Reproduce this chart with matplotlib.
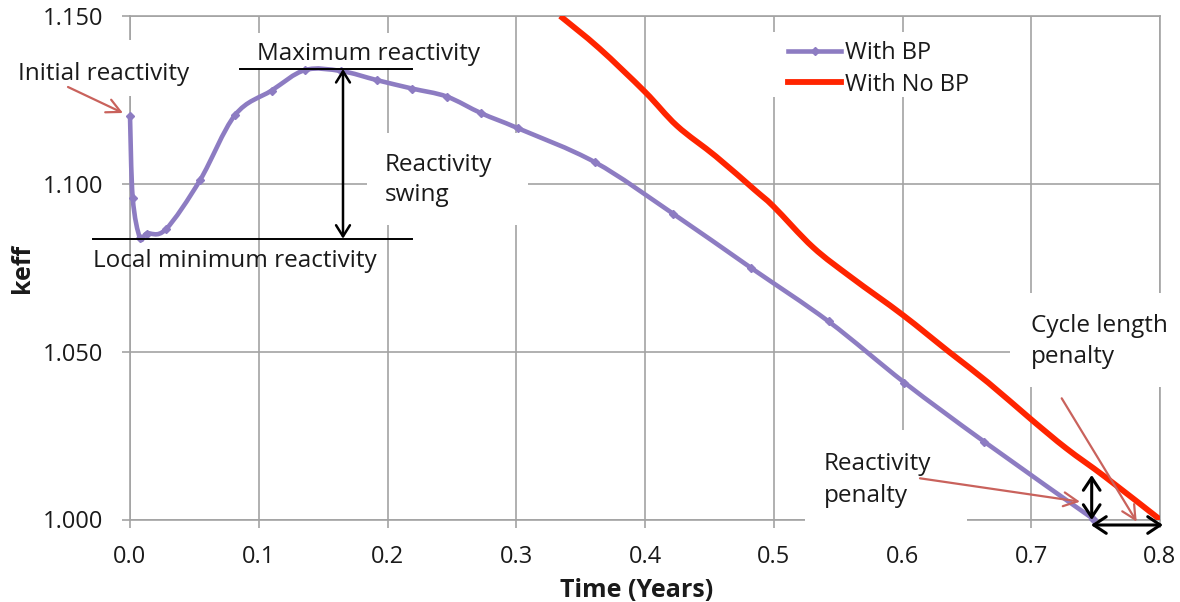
import matplotlib
matplotlib.use('Agg')
import matplotlib.pyplot as plt
from matplotlib.path import Path
from matplotlib.patches import PathPatch, Rectangle
from matplotlib.lines import Line2D

# ---------------- data ----------------
bp_time = [0.000, 0.0021, 0.0078, 0.013, 0.0277, 0.0544, 0.0816, 0.110, 0.136,
           0.164, 0.1917, 0.2189, 0.246, 0.273, 0.3017, 0.3613, 0.4218, 0.4822,
           0.5426, 0.6015, 0.6634, 0.748]
bp_keff = [1.1202, 1.0958, 1.0838, 1.0852, 1.0864, 1.1011, 1.1205, 1.1278, 1.1339,
           1.1336, 1.1309, 1.1284, 1.1260, 1.1210, 1.1165, 1.1064, 1.0911, 1.0750,
           1.0590, 1.0408, 1.0232, 1.0002]

nobp_time = [0.3341, 0.3644, 0.400, 0.4248, 0.455, 0.4852, 0.500, 0.5305, 0.5607,
             0.600, 0.6363, 0.6665, 0.700, 0.7272, 0.7574, 0.800]
nobp_keff = [1.1500, 1.1404, 1.1274, 1.1173, 1.1082, 1.0982, 1.0932, 1.0811, 1.0720,
             1.0610, 1.0499, 1.0408, 1.0298, 1.0212, 1.0127, 1.0000]

series_labels = ['With BP', 'With No BP']
x_ticks = [0.0, 0.1, 0.2, 0.3, 0.4, 0.5, 0.6, 0.7, 0.8]
x_tick_labels = ['0.0', '0.1', '0.2', '0.3', '0.4', '0.5', '0.6', '0.7', '0.8']
y_ticks = [1.000, 1.050, 1.100, 1.150]
y_tick_labels = ['1.000', '1.050', '1.100', '1.150']

# ---------------- style ----------------
plt.rcParams['font.family'] = ['Open Sans', 'DejaVu Sans']
W, H = 1180, 602
L, R, T, B = 130, 1160, 16, 519.5
GRID = '#a3a3a3'
PURPLE = '#8d7cc2'
RED = '#ff2400'
ARROW_RED = '#c9625c'
TXT = '#1a1a1a'
FS = 17.5
TICK_FS = 17

fig = plt.figure(figsize=(W / 100, H / 100), dpi=100)
ax = fig.add_axes([L / W, 1 - B / H, (R - L) / W, (B - T) / H])
ax.set_xlim(0, 0.8)
ax.set_ylim(1.0, 1.15)


def px(x, y):
    """figure pixel position (from top-left) -> data coords"""
    return ((x - L) / (R - L) * 0.8, 1.15 - (y - T) / (B - T) * 0.15)


def smooth_path(xs, ys):
    """Excel-like smoothed line: cubic Bezier segments through the data points."""
    n = len(xs)
    verts = [(xs[0], ys[0])]
    codes = [Path.MOVETO]
    for i in range(n - 1):
        a = max(i - 1, 0)
        d = min(i + 2, n - 1)
        c1 = (xs[i] + (xs[i + 1] - xs[a]) / 6, ys[i] + (ys[i + 1] - ys[a]) / 6)
        c2 = (xs[i + 1] - (xs[d] - xs[i]) / 6, ys[i + 1] - (ys[d] - ys[i]) / 6)
        verts += [c1, c2, (xs[i + 1], ys[i + 1])]
        codes += [Path.CURVE4] * 3
    return Path(verts, codes)


def white_box(x0, y0, x1, y1):
    (a, b), (c, d) = px(x0, y1), px(x1, y0)
    ax.add_patch(Rectangle((a, b), c - a, d - b, fc='white', ec='none', zorder=2.7,
                           clip_on=False))


def label(x, y, s, **kw):
    xd, yd = px(x, y)
    ax.text(xd, yd, s, fontsize=kw.pop('fontsize', FS), color=TXT, ha='left',
            va='baseline', zorder=8, clip_on=False, **kw)


def arrow(p_from, p_to, style, color, lw, ms, z=7):
    ax.annotate('', xy=px(*p_to), xytext=px(*p_from), zorder=z, annotation_clip=False,
                arrowprops=dict(arrowstyle=style, color=color, lw=lw, mutation_scale=ms,
                                shrinkA=0, shrinkB=0))


ax.grid(True, color=GRID, lw=1.2)
ax.set_axisbelow(True)
for s in ax.spines.values():
    s.set_color(GRID)
    s.set_linewidth(1.2)
ax.set_xticks(x_ticks)
ax.set_xticklabels(x_tick_labels)
ax.set_yticks(y_ticks)
ax.set_yticklabels(y_tick_labels)
ax.tick_params(axis='both', length=6, width=1.2, color=GRID, labelsize=TICK_FS,
               labelcolor=TXT, direction='out')
ax.tick_params(axis='y', pad=13)
ax.tick_params(axis='x', pad=12.5)

# axis titles
xd, yd = px(636.5, 597)
ax.text(xd, yd, 'Time (Years)', fontsize=18, fontweight='bold', color=TXT, ha='center',
        va='baseline', clip_on=False)
xd, yd = px(10, 268)
ax.text(xd, yd, 'keff', fontsize=18, fontweight='bold', color=TXT, ha='left',
        va='center', rotation=90, clip_on=False)

# white backgrounds of text boxes (hide the grid beneath them)
white_box(5, 40, 200, 96)        # Initial reactivity
white_box(245, 33, 495, 68)      # Maximum reactivity
white_box(367, 133, 528, 225)    # Reactivity swing
white_box(768, 32, 958, 97)      # legend
white_box(1010, 293, 1178, 387)  # Cycle length penalty
white_box(805, 430, 967, 528)    # Reactivity penalty

# series
ax.add_patch(PathPatch(smooth_path(nobp_time, nobp_keff), fill=False, ec=RED, lw=4.2,
                       zorder=5, capstyle='butt', joinstyle='round'))
ax.add_patch(PathPatch(smooth_path(bp_time, bp_keff), fill=False, ec=PURPLE, lw=3.3,
                       zorder=5.5, clip_on=False, joinstyle='round'))
ax.plot(bp_time, bp_keff, ls='none', marker='D', ms=4.5, mfc=PURPLE, mec=PURPLE,
        zorder=6, clip_on=False)

# legend
handles = [Line2D([], [], color=PURPLE, lw=3.3, marker='D', ms=4.5),
           Line2D([], [], color=RED, lw=4.2)]
lx, ly = px(788, 41)
leg = ax.legend(handles, series_labels, loc='upper left', bbox_to_anchor=(lx, ly),
                bbox_transform=ax.transData, fontsize=17, frameon=False,
                borderaxespad=0, borderpad=0, handlelength=2.25, handletextpad=0.15,
                labelspacing=0.32)
leg.set_zorder(8)
for t in leg.get_texts():
    t.set_color(TXT)

# annotations
label(18, 80, 'Initial reactivity')
arrow((68, 87), (123, 113), '->,head_length=0.5,head_width=0.25', ARROW_RED, 1.6, 20)

label(257, 60, 'Maximum reactivity')
x0, y0 = px(240, 69)
x1, _ = px(412, 69)
ax.plot([x0, x1], [y0, y0], color='black', lw=1.4, zorder=6.5)

x0, y0 = px(93, 238.7)
ax.plot([x0, x1], [y0, y0], color='black', lw=1.4, zorder=6.5, clip_on=False)
label(93, 267, 'Local minimum reactivity')

arrow((343, 238.7), (343, 69), '<->,head_length=0.4,head_width=0.25', 'black', 1.8, 20)
label(385, 171, 'Reactivity')
label(385, 201, 'swing')

label(1031, 331.7, 'Cycle length')
label(1031, 363.3, 'penalty')
arrow((1061.7, 398.3), (1136.7, 521.7), '->,head_length=0.5,head_width=0.25',
      ARROW_RED, 1.6, 20)

label(824, 470, 'Reactivity')
label(824, 501.7, 'penalty')
arrow((920, 478.3), (1080, 501.7), '->,head_length=0.5,head_width=0.25',
      ARROW_RED, 1.6, 20)

arrow((1091.7, 520), (1091.7, 475), '<->,head_length=0.45,head_width=0.3', 'black',
      2.2, 20, z=9)
arrow((1163, 525), (1091, 525), '<->,head_length=0.45,head_width=0.3', 'black',
      2.2, 20, z=9)

fig.savefig('out.png', dpi=100, facecolor='white')
